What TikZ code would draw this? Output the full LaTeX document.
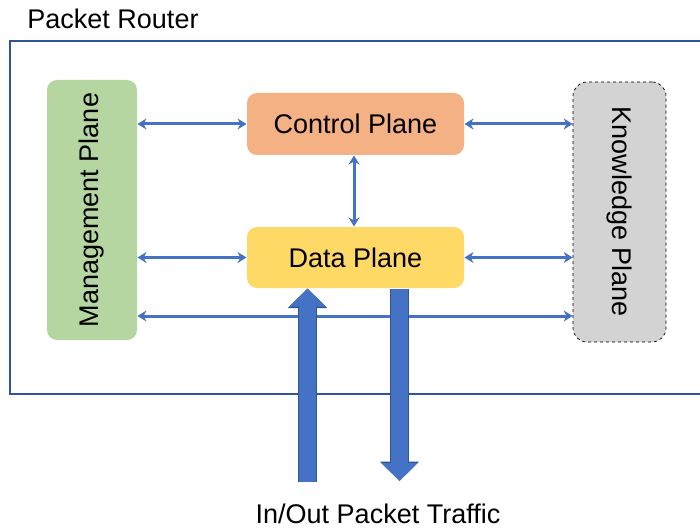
\documentclass[tikz,border=0pt]{standalone}
\usepackage{fontspec}
\setmainfont{Liberation Sans}
\usetikzlibrary{arrows.meta, positioning}

\definecolor{routerblue}{HTML}{2F5597}
\definecolor{linkblue}{HTML}{4472C4}
\definecolor{mgmtgreen}{HTML}{B5D6A0}
\definecolor{ctrlorange}{HTML}{F4B183}
\definecolor{datayellow}{HTML}{FFD966}
\definecolor{knowgray}{HTML}{D3D3D3}

\begin{document}
\begin{tikzpicture}[
    x=1pt, y=-1pt,
    line width=1pt,
    every node/.style={font=\fontsize{27}{30}\selectfont, align=center},
    plane/.style={rounded corners=10pt, inner sep=0pt},
    arrow/.style={{Stealth[length=9pt, width=11pt]}-{Stealth[length=9pt, width=11pt]}, line width=3pt, linkblue},
    traffic/.style={-{Triangle[length=18pt, width=35pt]}, line width=17pt, linkblue,
        preaction={draw, routerblue, line width=19pt, -{Triangle[length=19.5pt, width=38pt]}}}
]
\useasboundingbox (0,0) rectangle (700,529);
\draw[routerblue, line width=2pt] (10,41) rectangle (720,394);
\node (router) at (113,19) {Packet Router};
\node[plane, fill=mgmtgreen, minimum width=90pt, minimum height=260pt,
      label={[rotate=90]center:Management Plane}] (mgmt) at (92,210) {};
\node[plane, fill=ctrlorange, minimum width=217pt, minimum height=62pt] (ctrl) at (355.5,124) {Control Plane};
\node[plane, fill=datayellow, minimum width=217pt, minimum height=61pt] (data) at (355.5,257.5) {Data Plane};
\node[plane, rounded corners=14pt, fill=knowgray, draw, dashed, line width=0.7pt,
      minimum width=93pt, minimum height=260pt,
      label={[rotate=-90]center:Knowledge Plane}] (know) at (619.5,212) {};
\node (inout) at (378,514) {In/Out Packet Traffic};
\coordinate (inlow) at (307.5,482);
\coordinate (outlow) at (399.5,481);
\draw[arrow] (mgmt.east |- ctrl) -- (ctrl.west);
\draw[arrow] (ctrl.east) -- (know.west |- ctrl);
\draw[arrow] (ctrl.south -| 354,0) -- (data.north -| 354,0);
\draw[arrow] (mgmt.east |- data) -- (data.west);
\draw[arrow] (data.east) -- (know.west |- data);
\draw[arrow] (mgmt.east |- 0,316) -- (know.west |- 0,316);
\draw[traffic] (inlow) -- (inlow |- data.south);
\draw[traffic] (outlow |- data.south) -- (outlow);
\end{tikzpicture}
\end{document}
